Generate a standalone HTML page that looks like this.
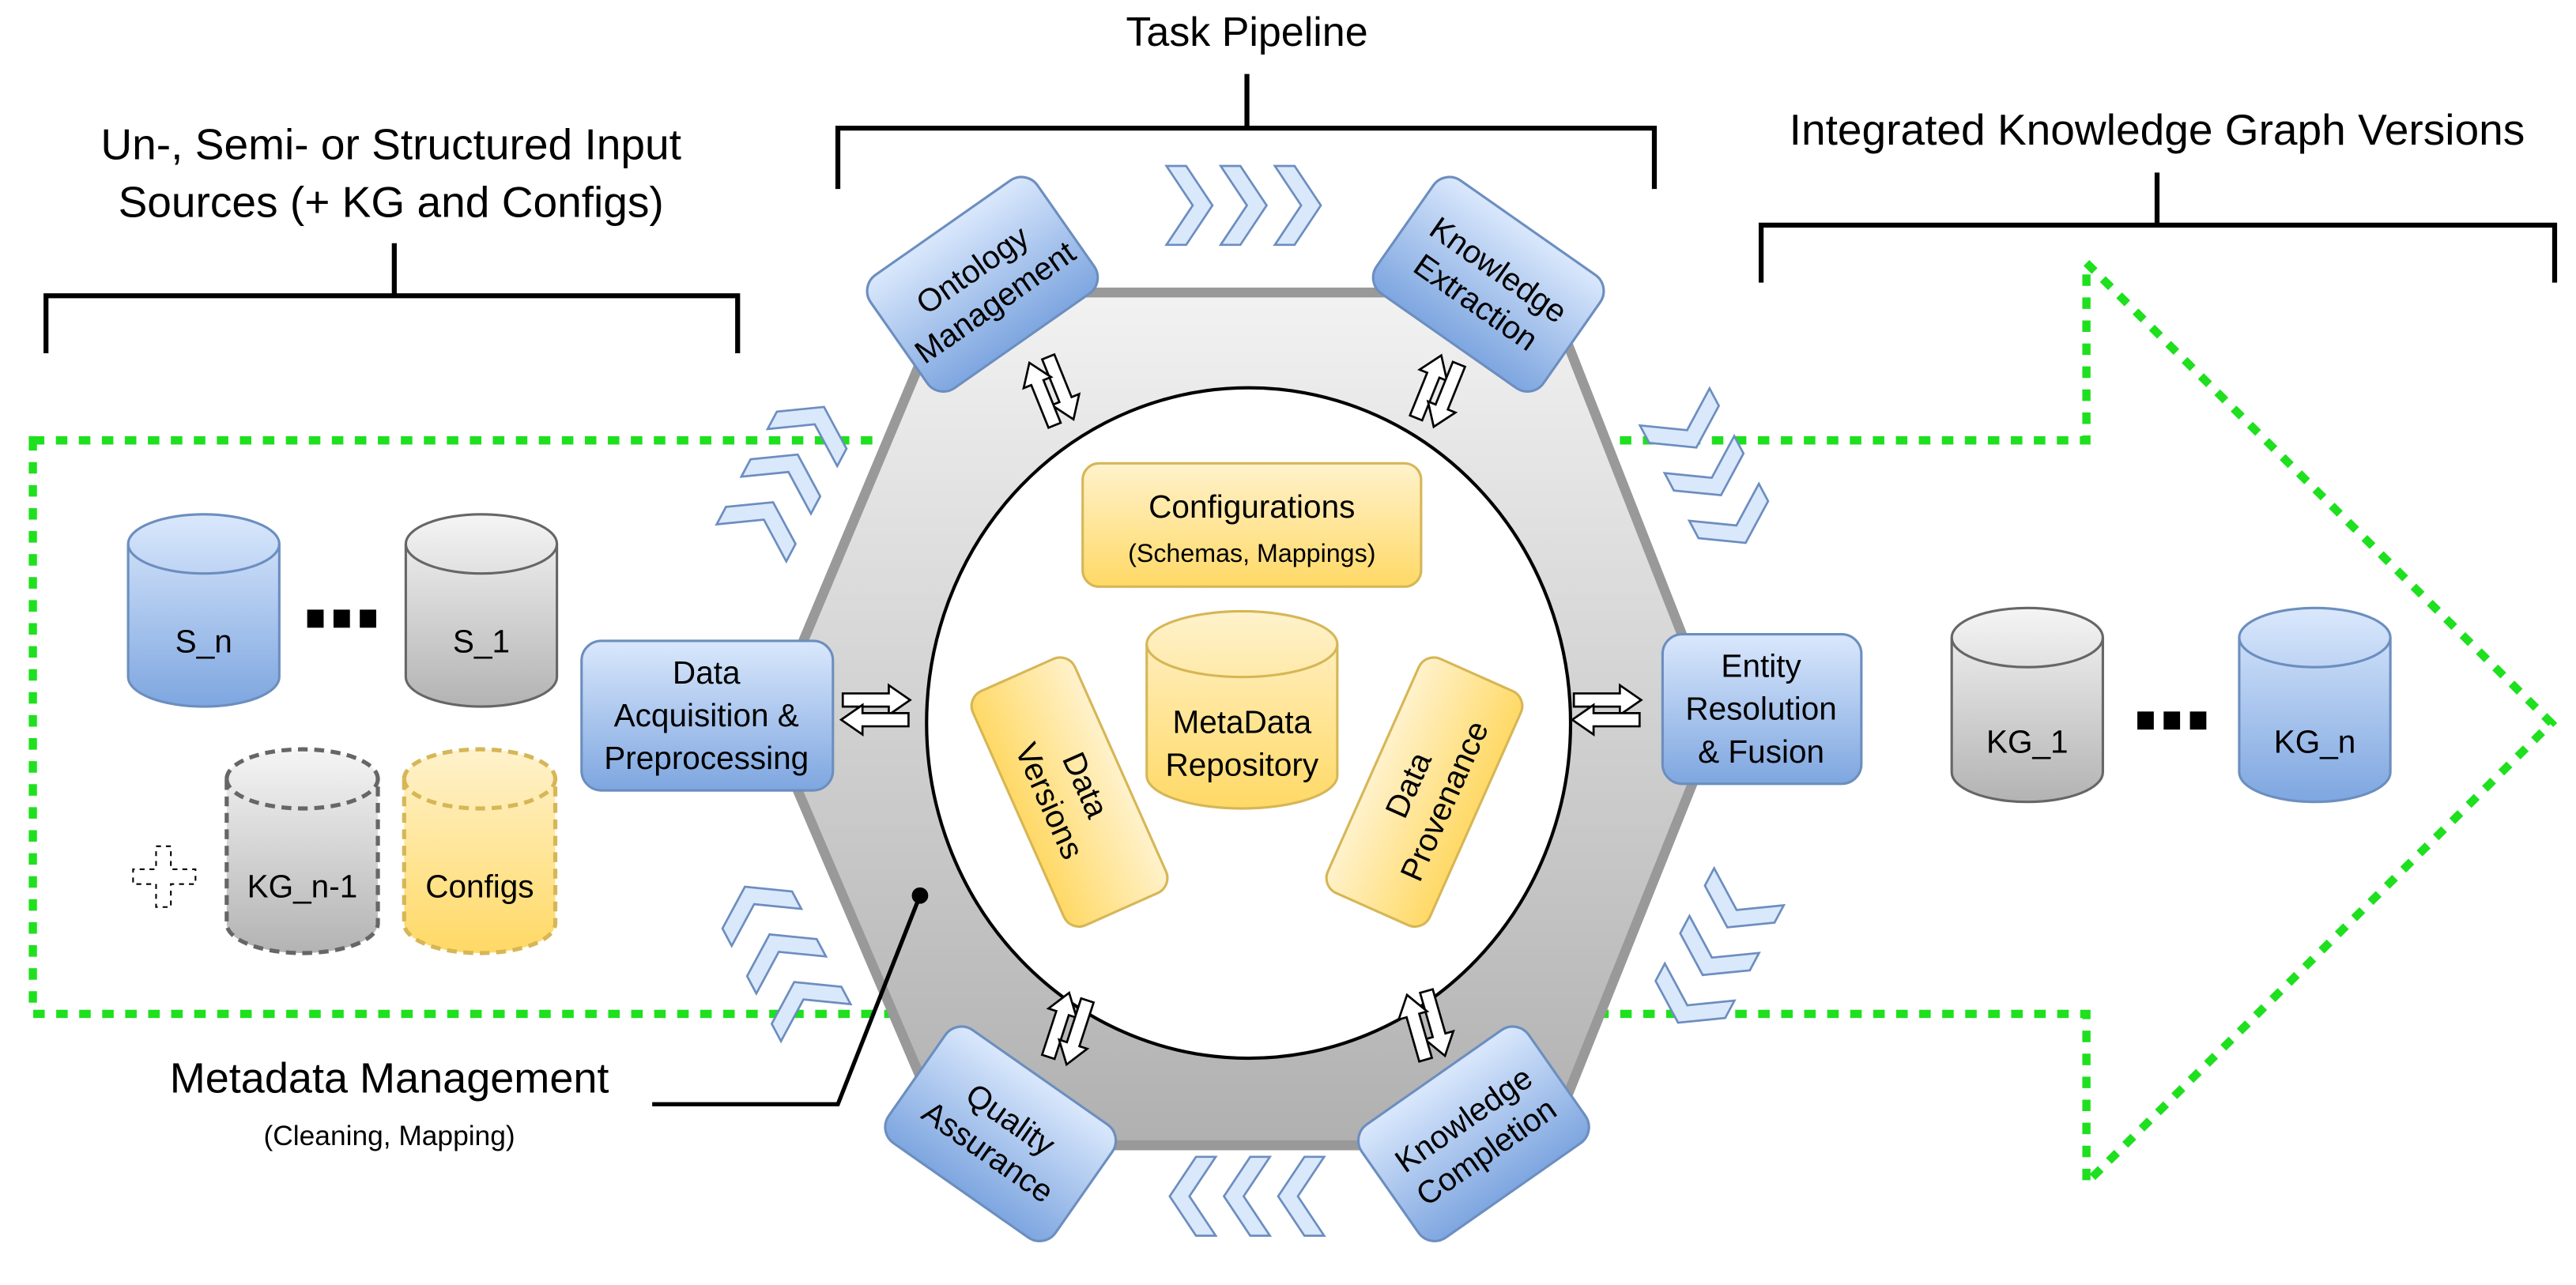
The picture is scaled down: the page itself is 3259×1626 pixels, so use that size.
<!DOCTYPE html>
<html><head><meta charset="utf-8"><style>html,body{margin:0;padding:0;background:#fff}svg{display:block}text{font-family:"Liberation Sans",sans-serif;fill:#000}</style></head>
<body>
<svg width="3259" height="1626" viewBox="0 0 1568 782" preserveAspectRatio="none" xmlns="http://www.w3.org/2000/svg">
<defs>
<linearGradient id="blue" x1="0" y1="0" x2="0" y2="1"><stop offset="0" stop-color="#dae8fc"/><stop offset="1" stop-color="#7ea6e0"/></linearGradient>
<linearGradient id="gray" x1="0" y1="0" x2="0" y2="1"><stop offset="0" stop-color="#f5f5f5"/><stop offset="1" stop-color="#b3b3b3"/></linearGradient>
<linearGradient id="yel" x1="0" y1="0" x2="0" y2="1"><stop offset="0" stop-color="#fff2cc"/><stop offset="1" stop-color="#ffd966"/></linearGradient>
<linearGradient id="hex" x1="0" y1="0" x2="0" y2="1"><stop offset="0" stop-color="#f2f2f2"/><stop offset="1" stop-color="#b0b0b0"/></linearGradient>
<path id="chev" d="M-12,-20 L2,-20 L14,0 L2,20 L-12,20 L0,0 Z" fill="#dae8fc" stroke="#6c8ebf" stroke-width="1.3"/>
<path id="chev2" d="M-14,-24 L-2,-24 L14,0 L-2,24 L-14,24 L2,0 Z" fill="#dae8fc" stroke="#6c8ebf" stroke-width="1.3"/>
<g id="dbl">
<path d="M-20,-10 L8,-10 L8,-15 L21,-6 L8,3 L8,-2 L-20,-2 Z" fill="#fff" stroke="#000" stroke-width="1.3"/>
<path d="M20,10 L-8,10 L-8,15 L-21,6 L-8,-3 L-8,2 L20,2 Z" fill="#fff" stroke="#000" stroke-width="1.3"/>
</g>
</defs>

<g stroke="#000" stroke-width="3" fill="none">
<path d="M28,215 V180 H449 V215 M240,180 V148"/>
<path d="M510,115 V78 H1007 V115 M759,78 V45"/>
<path d="M1072,172 V137 H1555 V172 M1313,137 V105"/>
</g>
<text x="238" y="97" font-size="26.5" text-anchor="middle">Un-, Semi- or Structured Input</text>
<text x="238" y="132" font-size="26.5" text-anchor="middle">Sources (+ KG and Configs)</text>
<text x="759" y="28" font-size="25" text-anchor="middle">Task Pipeline</text>
<text x="1313" y="88" font-size="26.5" text-anchor="middle">Integrated Knowledge Graph Versions</text>

<path d="M20,268 H1270 V160 L1553,440 L1270,720 V617 H20 Z" fill="none" stroke="#1ee01e" stroke-width="5" stroke-dasharray="7,7"/>

<path d="M578,178 H942 L1045,440 L942,697 H578 L468,440 Z" fill="url(#hex)" stroke="#999" stroke-width="6"/>
<ellipse cx="760" cy="440" rx="196" ry="204" fill="#fff" stroke="#000" stroke-width="2"/>

<g>
<use href="#chev2" transform="translate(724,125)"/>
<use href="#chev2" transform="translate(757,125)"/>
<use href="#chev2" transform="translate(790,125)"/>
<use href="#chev2" transform="translate(792,728) rotate(180)"/>
<use href="#chev2" transform="translate(759,728) rotate(180)"/>
<use href="#chev2" transform="translate(726,728) rotate(180)"/>
<use href="#chev2" transform="translate(495,260) rotate(-62)"/>
<use href="#chev2" transform="translate(479,289) rotate(-62)"/>
<use href="#chev2" transform="translate(464,318) rotate(-62)"/>
<use href="#chev2" transform="translate(1026,260) rotate(62)"/>
<use href="#chev2" transform="translate(1041,289) rotate(62)"/>
<use href="#chev2" transform="translate(1056,318) rotate(62)"/>
<use href="#chev2" transform="translate(1058,552) rotate(118)"/>
<use href="#chev2" transform="translate(1043,581) rotate(118)"/>
<use href="#chev2" transform="translate(1028,610) rotate(118)"/>
<use href="#chev2" transform="translate(460,552) rotate(-118)"/>
<use href="#chev2" transform="translate(475,581) rotate(-118)"/>
<use href="#chev2" transform="translate(490,610) rotate(-118)"/>
</g>

<use href="#dbl" transform="translate(533,432)"/>
<use href="#dbl" transform="translate(978,432)"/>
<use href="#dbl" transform="translate(640,238) rotate(68)"/>
<use href="#dbl" transform="translate(875,238) rotate(-68)"/>
<use href="#dbl" transform="translate(650,626) rotate(-72)"/>
<use href="#dbl" transform="translate(868,624) rotate(74)"/>

<g stroke="#6c8ebf" stroke-width="1.5" fill="url(#blue)">
<rect x="354" y="390" width="153" height="91" rx="12"/>
<rect x="1012" y="386" width="121" height="91" rx="12"/>
<rect x="-62" y="-42" width="124" height="84" rx="12" transform="translate(598,173) rotate(-35)"/>
<rect x="-62" y="-42" width="124" height="84" rx="12" transform="translate(906,173) rotate(35)"/>
<rect x="-62" y="-42" width="124" height="84" rx="12" transform="translate(609,690) rotate(35)"/>
<rect x="-62" y="-42" width="124" height="84" rx="12" transform="translate(897,690) rotate(-35)"/>
</g>
<g font-size="19.5" text-anchor="middle">
<text x="430" y="416">Data</text>
<text x="430" y="442">Acquisition &amp;</text>
<text x="430" y="468">Preprocessing</text>
<text x="1072" y="412">Entity</text>
<text x="1072" y="438">Resolution</text>
<text x="1072" y="464">&amp; Fusion</text>
<g transform="translate(598,173) rotate(-35)"><text y="-4">Ontology</text><text y="20">Management</text></g>
<g transform="translate(906,173) rotate(35)"><text y="-4">Knowledge</text><text y="20">Extraction</text></g>
<g transform="translate(609,690) rotate(35)"><text y="-4">Quality</text><text y="20">Assurance</text></g>
<g transform="translate(897,690) rotate(-35)"><text y="-4">Knowledge</text><text y="20">Completion</text></g>
</g>

<g stroke="#d6b656" stroke-width="1.5" fill="url(#yel)">
<rect x="659" y="282" width="206" height="75" rx="10"/>
<rect x="-78" y="-34" width="156" height="68" rx="10" transform="translate(651,482) rotate(66)"/>
<rect x="-78" y="-34" width="156" height="68" rx="10" transform="translate(867,482) rotate(-66)"/>
<path d="M698,392 a58,20 0 0 1 116,0 V472 a58,20 0 0 1 -116,0 Z"/>
<path d="M698,392 a58,20 0 0 0 116,0" fill="none"/>
</g>
<g font-size="19.5" text-anchor="middle">
<text x="762" y="315">Configurations</text>
<text x="762" y="342" font-size="15.5">(Schemas, Mappings)</text>
<text x="756" y="446">MetaData</text>
<text x="756" y="472">Repository</text>
<g transform="translate(651,482) rotate(66)"><text y="-4">Data</text><text y="20">Versions</text></g>
<g transform="translate(867,482) rotate(-66)"><text y="-4">Data</text><text y="20">Provenance</text></g>
</g>

<circle cx="560" cy="545" r="5" fill="#000"/>
<path d="M560,545 L510,672 H397" fill="none" stroke="#000" stroke-width="2.5"/>
<text x="237" y="665" font-size="26" text-anchor="middle">Metadata Management</text>
<text x="237" y="697" font-size="17" text-anchor="middle">(Cleaning, Mapping)</text>

<g stroke-width="1.5">
<path d="M78,331 a46,18 0 0 1 92,0 V412 a46,18 0 0 1 -92,0 Z" fill="url(#blue)" stroke="#6c8ebf"/>
<path d="M78,331 a46,18 0 0 0 92,0" fill="none" stroke="#6c8ebf"/>
<path d="M247,331 a46,18 0 0 1 92,0 V412 a46,18 0 0 1 -92,0 Z" fill="url(#gray)" stroke="#666"/>
<path d="M247,331 a46,18 0 0 0 92,0" fill="none" stroke="#666"/>
<g stroke-width="2.5" stroke-dasharray="6,4">
<path d="M138,474 a46,18 0 0 1 92,0 V562 a46,18 0 0 1 -92,0 Z" fill="url(#gray)" stroke="#666"/>
<path d="M138,474 a46,18 0 0 0 92,0" fill="none" stroke="#666"/>
<path d="M246,474 a46,18 0 0 1 92,0 V562 a46,18 0 0 1 -92,0 Z" fill="url(#yel)" stroke="#d6b656"/>
<path d="M246,474 a46,18 0 0 0 92,0" fill="none" stroke="#d6b656"/>
</g>
<path d="M95,515 H104 V529 H119 V538 H104 V552 H95 V538 H81 V529 H95 Z" fill="none" stroke="#000" stroke-width="1" stroke-dasharray="3,3"/>
<path d="M1188,388 a46,18 0 0 1 92,0 V470 a46,18 0 0 1 -92,0 Z" fill="url(#gray)" stroke="#666"/>
<path d="M1188,388 a46,18 0 0 0 92,0" fill="none" stroke="#666"/>
<path d="M1363,388 a46,18 0 0 1 92,0 V470 a46,18 0 0 1 -92,0 Z" fill="url(#blue)" stroke="#6c8ebf"/>
<path d="M1363,388 a46,18 0 0 0 92,0" fill="none" stroke="#6c8ebf"/>
</g>
<g fill="#000">
<rect x="187" y="371" width="10" height="11"/><rect x="203" y="371" width="10" height="11"/><rect x="219" y="371" width="10" height="11"/>
<rect x="1301" y="433" width="10" height="11"/><rect x="1317" y="433" width="10" height="11"/><rect x="1333" y="433" width="10" height="11"/>
</g>
<g font-size="19.5" text-anchor="middle">
<text x="124" y="397">S_n</text>
<text x="293" y="397">S_1</text>
<text x="184" y="546">KG_n-1</text>
<text x="292" y="546">Configs</text>
<text x="1234" y="458">KG_1</text>
<text x="1409" y="458">KG_n</text>
</g>
</svg>
</body></html>
